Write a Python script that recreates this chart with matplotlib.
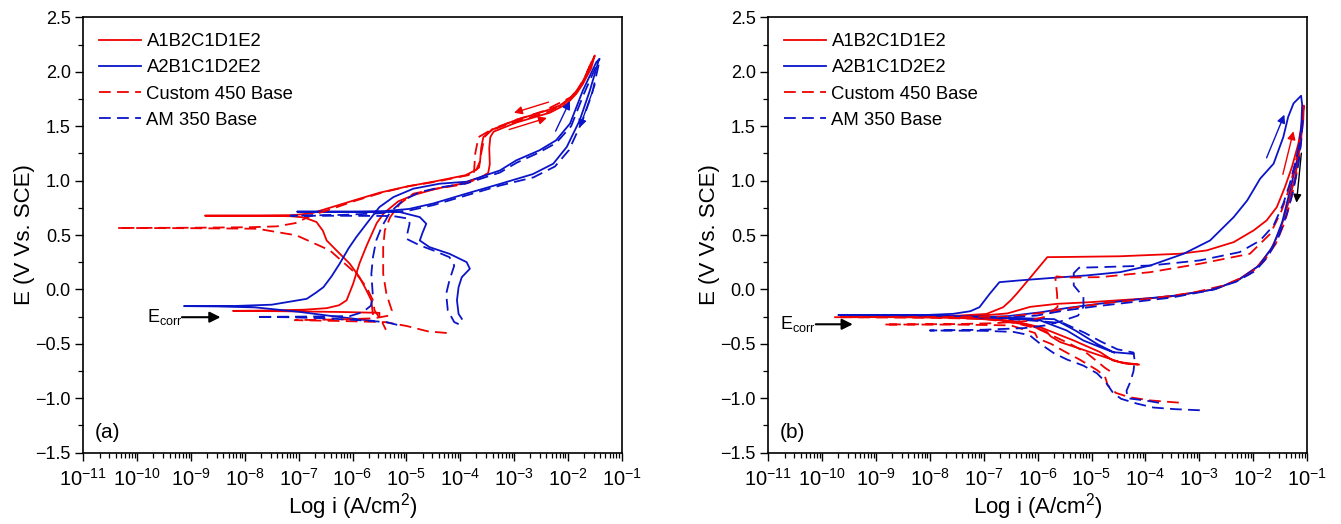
import numpy as np
import matplotlib
matplotlib.use("Agg")
import matplotlib.pyplot as plt
from matplotlib.ticker import LogLocator, MultipleLocator, NullFormatter

plt.rcParams['font.family'] = ['Liberation Sans', 'DejaVu Sans']
plt.rcParams['mathtext.fontset'] = 'custom'
plt.rcParams['mathtext.rm'] = 'Liberation Sans'
plt.rcParams['mathtext.it'] = 'Liberation Sans:italic'
plt.rcParams['mathtext.bf'] = 'Liberation Sans:bold'

RED = '#F00000'
BLUE = '#0A14C8'

labels = ['A1B2C1D1E2', 'A2B1C1D2E2', 'Custom 450 Base', 'AM 350 Base']

# (log10 i [A/cm2], E [V vs SCE]), forward scan then reverse
# ---- panel (a)
a_red_solid = [
    (-5.50, -0.235), (-5.50, -0.215), (-6.2, -0.207), (-7.3, -0.200), (-8.22, -0.197),
    (-7.5, -0.193), (-6.9, -0.186), (-6.48, -0.172), (-6.25, -0.145), (-6.11, -0.10),
    (-5.99, 0.05), (-5.87, 0.24), (-5.74, 0.40), (-5.65, 0.50), (-5.55, 0.61),
    (-5.42, 0.70), (-5.15, 0.81), (-4.85, 0.87), (-4.45, 0.925), (-3.95, 0.975),
    (-3.62, 1.03), (-3.48, 1.07), (-3.45, 1.15), (-3.46, 1.30), (-3.44, 1.40),
    (-3.38, 1.45), (-2.95, 1.535), (-2.33, 1.625), (-2.02, 1.705), (-1.84, 1.80),
    (-1.72, 1.89), (-1.57, 2.03), (-1.50, 2.15),
    (-1.53, 2.12), (-1.63, 2.0), (-1.78, 1.86), (-1.93, 1.77), (-2.15, 1.69),
    (-2.45, 1.635), (-2.95, 1.56), (-3.40, 1.47), (-3.57, 1.40), (-3.61, 1.30),
    (-3.63, 1.18), (-3.70, 1.10), (-3.90, 1.05), (-4.45, 0.995), (-5.0, 0.945),
    (-5.49, 0.89), (-5.93, 0.825), (-6.36, 0.76), (-6.76, 0.70), (-7.1, 0.683),
    (-7.8, 0.680), (-8.74, 0.678), (-7.6, 0.676), (-7.15, 0.673), (-6.9, 0.662),
    (-6.67, 0.62), (-6.55, 0.54), (-6.48, 0.45), (-6.3, 0.36), (-6.05, 0.236),
    (-5.87, 0.113), (-5.74, -0.009), (-5.65, -0.10), (-5.63, -0.193), (-5.62, -0.225),
]
a_blue_solid = [
    (-5.6, -0.29), (-6.3, -0.25), (-7.0, -0.205), (-7.8, -0.165), (-8.5, -0.156),
    (-9.13, -0.153), (-8.2, -0.152), (-7.5, -0.14), (-6.85, -0.086), (-6.68, -0.03),
    (-6.54, 0.021), (-6.39, 0.12), (-6.24, 0.236), (-6.07, 0.38), (-5.93, 0.481),
    (-5.74, 0.604), (-5.50, 0.757), (-5.24, 0.849), (-4.87, 0.926), (-4.38, 0.972),
    (-3.88, 0.99), (-3.26, 1.094), (-2.96, 1.186), (-2.53, 1.278), (-2.22, 1.37),
    (-1.96, 1.524), (-1.72, 1.83), (-1.47, 2.09), (-1.41, 2.12),
    (-1.43, 2.10), (-1.59, 1.83), (-1.78, 1.554), (-2.02, 1.31), (-2.27, 1.156),
    (-2.65, 1.06), (-3.26, 0.97), (-3.89, 0.88), (-4.50, 0.79), (-4.95, 0.74),
    (-5.4, 0.72), (-6.0, 0.716), (-7.03, 0.715), (-6.0, 0.713), (-5.12, 0.711),
    (-4.75, 0.665), (-4.63, 0.604), (-4.70, 0.52), (-4.75, 0.45), (-4.57, 0.389),
    (-4.20, 0.328), (-3.88, 0.251), (-3.82, 0.19), (-3.97, 0.113), (-4.03, 0.021),
    (-4.06, -0.10), (-4.03, -0.224), (-3.97, -0.27),
]
a_red_dash = [
    (-4.25, -0.40), (-4.6, -0.385), (-5.0, -0.335), (-5.4, -0.30), (-6.2, -0.29),
    (-7.07, -0.282), (-6.2, -0.275), (-5.6, -0.265), (-5.32, -0.24), (-5.27, -0.193),
    (-5.37, -0.04), (-5.43, 0.144), (-5.43, 0.389), (-5.40, 0.543), (-5.30, 0.665),
    (-5.12, 0.788), (-4.87, 0.88), (-4.45, 0.925), (-3.95, 0.965), (-3.76, 1.00),
    (-3.74, 1.10), (-3.72, 1.25), (-3.66, 1.40), (-3.45, 1.46), (-2.95, 1.545),
    (-2.35, 1.635), (-2.05, 1.715), (-1.85, 1.815), (-1.70, 1.935), (-1.55, 2.10),
    (-1.57, 2.08), (-1.74, 1.88), (-1.95, 1.765), (-2.45, 1.64), (-2.95, 1.56),
    (-3.40, 1.475), (-3.55, 1.40), (-3.61, 1.25), (-3.65, 1.12), (-3.85, 1.05),
    (-4.45, 0.99), (-4.95, 0.95), (-5.45, 0.89), (-5.95, 0.815), (-6.36, 0.745),
    (-6.76, 0.68), (-7.06, 0.61), (-7.4, 0.58), (-7.9, 0.572), (-9.0, 0.567),
    (-10.37, 0.565), (-9.0, 0.563), (-7.77, 0.558), (-7.04, 0.497), (-6.42, 0.359),
    (-5.93, 0.144), (-5.74, 0.021), (-5.62, -0.10), (-5.59, -0.193), (-5.47, -0.28),
    (-5.38, -0.37),
]
a_blue_dash = [
    (-5.17, -0.325), (-5.37, -0.30), (-5.8, -0.285), (-6.5, -0.265), (-7.2, -0.255),
    (-7.79, -0.252), (-7.0, -0.25), (-6.05, -0.245), (-5.81, -0.208), (-5.66, -0.15),
    (-5.62, -0.07), (-5.65, 0.144), (-5.62, 0.297), (-5.56, 0.45), (-5.46, 0.573),
    (-5.30, 0.711), (-5.06, 0.818), (-4.75, 0.895), (-4.35, 0.94), (-3.88, 0.975),
    (-3.26, 1.075), (-2.95, 1.165), (-2.55, 1.255), (-2.22, 1.345), (-1.94, 1.50),
    (-1.70, 1.80), (-1.45, 2.08),
    (-1.43, 2.06), (-1.55, 1.80), (-1.73, 1.55), (-1.98, 1.28), (-2.24, 1.13),
    (-2.64, 1.03), (-3.26, 0.955), (-3.88, 0.865), (-4.50, 0.775), (-4.95, 0.725),
    (-5.5, 0.70), (-6.2, 0.685), (-7.15, 0.678), (-6.2, 0.677), (-5.25, 0.675),
    (-4.95, 0.65), (-4.94, 0.604), (-4.97, 0.54), (-5.0, 0.466), (-4.75, 0.405),
    (-4.50, 0.359), (-4.20, 0.297), (-4.11, 0.22), (-4.20, 0.083), (-4.26, -0.04),
    (-4.23, -0.193), (-4.11, -0.30), (-3.98, -0.33),
]
# ---- panel (b)
b_red_solid = [
    (-4.12, -0.69), (-4.47, -0.668), (-4.84, -0.607), (-5.21, -0.545), (-5.58, -0.484),
    (-5.76, -0.43), (-5.83, -0.39), (-6.14, -0.33), (-6.75, -0.28), (-7.45, -0.262),
    (-8.5, -0.255), (-9.55, -0.25), (-8.5, -0.248), (-7.45, -0.24), (-6.95, -0.225),
    (-6.64, -0.163), (-6.5, -0.10), (-6.39, -0.04), (-6.13, 0.113), (-5.82, 0.297),
    (-5.4, 0.299), (-4.47, 0.305), (-3.36, 0.328), (-2.86, 0.359), (-2.36, 0.435),
    (-1.99, 0.543), (-1.75, 0.634), (-1.56, 0.757), (-1.41, 0.94), (-1.28, 1.125),
    (-1.16, 1.34), (-1.10, 1.52), (-1.06, 1.69),
    (-1.07, 1.55), (-1.13, 1.31), (-1.22, 1.033), (-1.35, 0.788), (-1.50, 0.543),
    (-1.68, 0.359), (-1.93, 0.205), (-2.25, 0.098), (-2.68, 0.006), (-3.60, -0.07),
    (-4.09, -0.086), (-5.03, -0.117), (-5.64, -0.132), (-6.14, -0.16), (-6.56, -0.22),
    (-7.1, -0.243), (-7.7, -0.25), (-7.0, -0.262), (-6.45, -0.29), (-5.95, -0.347),
    (-5.33, -0.469), (-4.84, -0.576), (-4.6, -0.653), (-4.35, -0.683), (-4.15, -0.69),
]
b_blue_solid = [
    (-4.22, -0.592), (-4.60, -0.576), (-4.84, -0.53), (-5.15, -0.469), (-5.46, -0.377),
    (-5.95, -0.285), (-6.95, -0.25), (-8.18, -0.239), (-9.70, -0.235), (-8.18, -0.237),
    (-7.57, -0.224), (-7.25, -0.20), (-7.08, -0.163), (-6.89, -0.04), (-6.71, 0.067),
    (-6.34, 0.083), (-5.71, 0.107), (-5.09, 0.129), (-4.47, 0.159), (-3.91, 0.22),
    (-3.29, 0.328), (-2.80, 0.45), (-2.36, 0.665), (-2.11, 0.818), (-1.87, 1.018),
    (-1.62, 1.156), (-1.44, 1.40), (-1.35, 1.585), (-1.25, 1.71), (-1.11, 1.78),
    (-1.09, 1.70), (-1.11, 1.45), (-1.19, 1.18), (-1.31, 0.92), (-1.46, 0.62),
    (-1.63, 0.40), (-1.89, 0.22), (-2.26, 0.09), (-2.72, 0.0), (-3.42, -0.055),
    (-4.12, -0.09), (-4.84, -0.13), (-5.45, -0.17), (-5.95, -0.21), (-6.55, -0.245),
    (-7.15, -0.258), (-6.45, -0.262), (-5.69, -0.273), (-5.29, -0.38), (-4.9, -0.50),
    (-4.58, -0.58),
]
b_red_dash = [
    (-3.38, -1.04), (-3.9, -1.02), (-4.3, -0.99), (-4.55, -0.95), (-4.7, -0.88),
    (-4.75, -0.80), (-4.9, -0.74), (-5.2, -0.65), (-5.5, -0.57), (-5.75, -0.50),
    (-6.0, -0.45), (-6.05, -0.40), (-6.5, -0.33), (-7.5, -0.323), (-8.85, -0.322),
    (-7.5, -0.318), (-6.8, -0.31), (-6.2, -0.29), (-5.85, -0.25), (-5.63, -0.16),
    (-5.64, -0.04), (-5.67, 0.098), (-5.65, 0.12), (-5.45, 0.11), (-4.84, 0.113),
    (-3.91, 0.159), (-2.99, 0.236), (-2.06, 0.328), (-1.68, 0.512), (-1.47, 0.726),
    (-1.32, 0.94), (-1.19, 1.216), (-1.10, 1.46),
    (-1.11, 1.35), (-1.18, 1.10), (-1.28, 0.86), (-1.41, 0.62), (-1.58, 0.42),
    (-1.80, 0.26), (-2.07, 0.14), (-2.52, 0.04), (-3.12, -0.03), (-3.92, -0.085),
    (-4.72, -0.125), (-5.32, -0.165), (-5.92, -0.215), (-6.55, -0.25), (-8.0, -0.254),
    (-9.78, -0.255), (-8.0, -0.26), (-7.0, -0.27), (-6.4, -0.31), (-6.0, -0.36),
    (-5.7, -0.43), (-5.4, -0.50), (-5.1, -0.58), (-4.9, -0.66), (-4.75, -0.72),
    (-4.6, -0.77),
]
b_blue_dash = [
    (-2.99, -1.11), (-3.45, -1.10), (-3.85, -1.085), (-4.15, -1.05), (-4.45, -1.005),
    (-4.6, -0.95), (-4.74, -0.85), (-4.9, -0.77), (-5.15, -0.70), (-5.45, -0.645),
    (-5.7, -0.585), (-5.95, -0.50), (-6.15, -0.42), (-6.45, -0.39), (-7.0, -0.38),
    (-8.0, -0.377), (-7.0, -0.37), (-6.25, -0.355), (-5.85, -0.33), (-5.55, -0.29),
    (-5.25, -0.24), (-5.15, -0.16), (-5.15, -0.07), (-5.33, 0.037), (-5.33, 0.15),
    (-5.23, 0.20), (-4.84, 0.205), (-3.91, 0.22), (-2.99, 0.267), (-2.25, 0.343),
    (-1.87, 0.45), (-1.62, 0.588), (-1.44, 0.788), (-1.32, 0.972), (-1.19, 1.216),
    (-1.13, 1.40), (-1.08, 1.55),
    (-1.10, 1.40), (-1.16, 1.15), (-1.25, 0.92), (-1.37, 0.70), (-1.53, 0.48),
    (-1.73, 0.30), (-1.96, 0.17), (-2.32, 0.07), (-2.82, -0.01), (-3.52, -0.075),
    (-4.22, -0.115), (-4.92, -0.155), (-5.52, -0.195), (-6.02, -0.24), (-6.72, -0.265),
    (-6.12, -0.285), (-5.52, -0.31), (-5.12, -0.40), (-4.82, -0.48), (-4.52, -0.55),
    (-4.22, -0.58), (-4.20, -0.65), (-4.22, -0.75), (-4.28, -0.85), (-4.35, -0.93),
    (-4.33, -1.0), (-4.0, -1.02), (-3.65, -1.05),
]

# scan-direction arrows: (tail, head) in (log10 i, E)
a_arrows = [((-2.31, 1.729), (-3.05, 1.616), RED), ((-3.14, 1.462), (-2.34, 1.584), RED),
            ((-2.25, 1.432), (-1.94, 1.754), BLUE), ((-1.48, 1.906), (-1.80, 1.462), BLUE)]
b_arrows = [((-1.10, 1.278), (-1.20, 0.772), 'black'), ((-1.77, 1.186), (-1.40, 1.63), BLUE),
            ((-1.46, 1.033), (-1.24, 1.478), RED)]
ecorr_a = ((-9.82, -0.25), (-9.22, -0.255), (-8.40, -0.255))
ecorr_b = ((-10.79, -0.32), (-10.17, -0.32), (-9.38, -0.32))

fig = plt.figure(figsize=(13.41, 5.24), dpi=100)
W, H = 1341.0, 524.0
y0, y1 = 452.7, 17.4
ax_a = fig.add_axes([83.3 / W, 1 - y0 / H, (621.7 - 83.3) / W, (y0 - y1) / H])
ax_b = fig.add_axes([768.3 / W, 1 - y0 / H, (1307.0 - 768.3) / W, (y0 - y1) / H])

DASH = (0, (6.5, 3.5))


def draw(ax, curves, arrows, ecorr, tag):
    for pts, color, ls, lab in curves:
        arr = np.array(pts)
        ax.plot(10 ** arr[:, 0], arr[:, 1], color=color, ls=ls, lw=1.3, label=lab)
    for tail, head, c in arrows:
        ax.annotate('', xy=(10 ** head[0], head[1]), xytext=(10 ** tail[0], tail[1]),
                    arrowprops=dict(arrowstyle='-|>', color=c, lw=1.0, mutation_scale=12))
    (tx, ty), (sx, sy), (hx, hy) = ecorr
    ax.text(10 ** tx, ty, r'E$_{\mathrm{corr}}$', fontsize=13, ha='left', va='center')
    ax.annotate('', xy=(10 ** hx, hy), xytext=(10 ** sx, sy),
                arrowprops=dict(arrowstyle='-|>', color='black', lw=1.5, mutation_scale=16))
    ax.text(10 ** -10.78, -1.315, tag, fontsize=15, ha='left', va='center')

    ax.set_xscale('log')
    ax.set_xlim(1e-11, 1e-1)
    ax.set_ylim(-1.5, 2.5)
    ax.xaxis.set_major_locator(LogLocator(base=10, numticks=20))
    ax.xaxis.set_minor_locator(LogLocator(base=10, subs=np.arange(2, 10), numticks=200))
    ax.xaxis.set_minor_formatter(NullFormatter())
    ax.yaxis.set_major_locator(MultipleLocator(0.5))
    ax.yaxis.set_minor_locator(MultipleLocator(0.25))
    ax.tick_params(which='major', direction='out', length=6, width=1.0)
    ax.tick_params(which='minor', direction='out', length=3.5, width=0.9)
    ax.tick_params(axis='x', labelsize=14.5, pad=5)
    ax.tick_params(axis='y', labelsize=13, pad=3)
    for s in ax.spines.values():
        s.set_linewidth(1.2)
    ax.set_xlabel('Log i (A/cm$^{2}$)', fontsize=16, labelpad=1)
    ax.set_ylabel('E (V Vs. SCE)', fontsize=16, labelpad=0)
    ax.legend(loc='upper left', frameon=False, fontsize=13.3, handlelength=2.3,
              handletextpad=0.27, labelspacing=0.5, borderaxespad=0.45, borderpad=0.4)


draw(ax_a, [(a_red_solid, RED, '-', labels[0]), (a_blue_solid, BLUE, '-', labels[1]),
            (a_red_dash, RED, DASH, labels[2]), (a_blue_dash, BLUE, DASH, labels[3])],
     a_arrows, ecorr_a, '(a)')
draw(ax_b, [(b_red_solid, RED, '-', labels[0]), (b_blue_solid, BLUE, '-', labels[1]),
            (b_red_dash, RED, DASH, labels[2]), (b_blue_dash, BLUE, DASH, labels[3])],
     b_arrows, ecorr_b, '(b)')

fig.savefig('out.png', dpi=100)
